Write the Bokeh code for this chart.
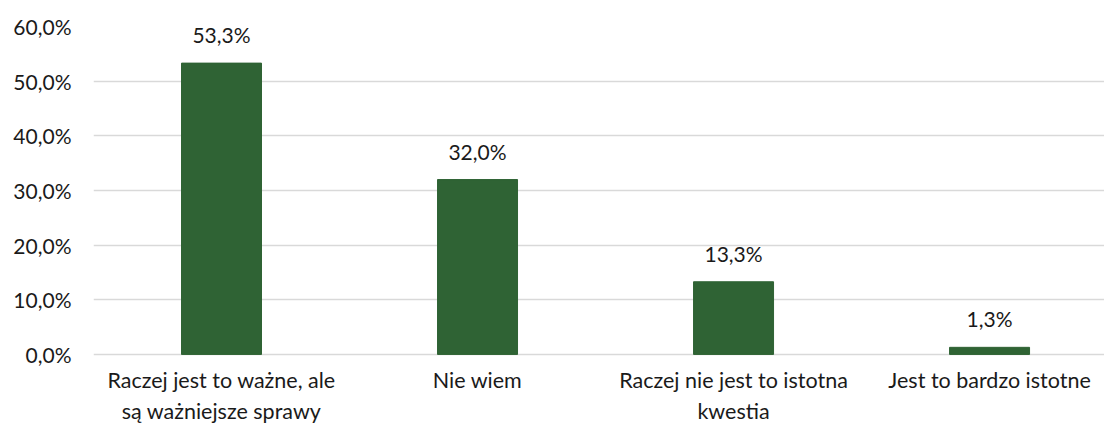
from bokeh.plotting import figure
from bokeh.models import Range1d, FixedTicker, ColumnDataSource, LabelSet
from bokeh.core.properties import value
from bokeh.embed import file_html
from bokeh.resources import INLINE

categories = ["Raczej jest to ważne, ale\nsą ważniejsze sprawy", "Nie wiem",
              "Raczej nie jest to istotna\nkwestia", "Jest to bardzo istotne"]
values = [53.3, 32.0, 13.3, 1.3]
y_ticks = [0, 10, 20, 30, 40, 50, 60]
y_tick_labels = ["0,0%", "10,0%", "20,0%", "30,0%", "40,0%", "50,0%", "60,0%"]

FONT = "Lato"
TXT = "#1a1a1a"

xs = list(range(len(categories)))
labels = [f"{v:.1f}%".replace(".", ",") for v in values]
src = ColumnDataSource(dict(x=xs, top=values, label=labels,
                            cat=categories, base=[0] * len(xs)))

p = figure(width=1104, height=425, output_backend="svg", toolbar_location=None,
           x_range=Range1d(-0.5, 3.449), y_range=Range1d(-13.0, 60),
           min_border_left=93, min_border_right=0, min_border_top=26, min_border_bottom=0)
p.outline_line_color = None
p.background_fill_color = "white"
p.border_fill_color = "white"

p.vbar(x="x", top="top", width=0.3125, source=src, fill_color="#2F6334",
       line_color="#2F6334")

lbl = LabelSet(x="x", y="top", text="label", source=src, text_align="center",
               text_baseline="alphabetic", y_offset=20, text_font=value(FONT),
               text_font_size="21px", text_color=TXT)
p.add_layout(lbl)

# category labels under the bars
p.text(x="x", y="base", text="cat", source=src, text_align="center",
       text_baseline="top", y_offset=13, text_font=value(FONT),
       text_font_size="21.5px", text_color=TXT, text_line_height=1.18)

p.xgrid.grid_line_color = None
p.ygrid.grid_line_color = "#D9D9D9"
p.ygrid.grid_line_width = 1.5
p.yaxis.ticker = FixedTicker(ticks=y_ticks)
p.yaxis.major_label_overrides = {t: l for t, l in zip(y_ticks, y_tick_labels)}
p.xaxis.visible = False

ax = p.yaxis
ax.axis_line_color = None
ax.major_tick_line_color = None
ax.minor_tick_line_color = None
ax.major_tick_out = 0
ax.major_tick_in = 0
ax.major_label_text_font = FONT
ax.major_label_text_font_size = "21px"
ax.major_label_text_color = TXT
ax.major_label_standoff = 22

open("out.html", "w").write(file_html(p, INLINE))
